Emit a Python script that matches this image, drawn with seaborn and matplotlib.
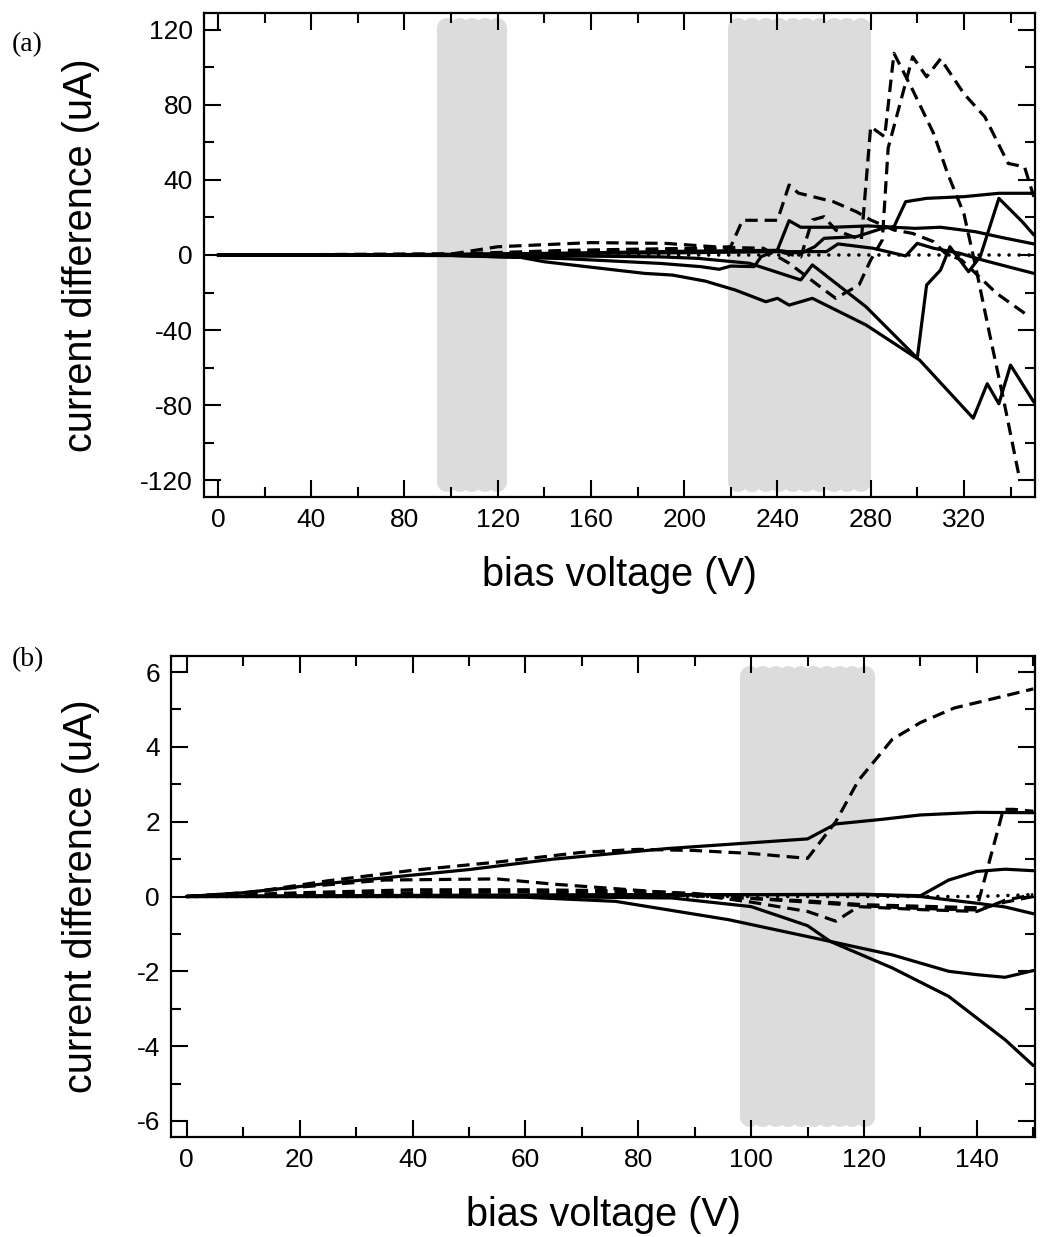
import numpy as np
import pandas as pd
import matplotlib
matplotlib.use("Agg")
import matplotlib.pyplot as plt
from matplotlib.ticker import MultipleLocator
import seaborn as sns

sns.set_style("ticks")
plt.rcParams['font.family'] = ['Liberation Sans', 'DejaVu Sans']
plt.rcParams['axes.unicode_minus'] = False
plt.rcParams['lines.scale_dashes'] = False
for key in ['text.color', 'axes.labelcolor', 'xtick.color', 'ytick.color',
            'xtick.labelcolor', 'ytick.labelcolor', 'axes.edgecolor']:
    plt.rcParams[key] = 'black'

# ---------------- panel (a) data: bias voltage (V) / current difference (uA)
a_s1_v = [0, 100, 150, 200, 240, 250, 256, 260, 274, 285, 290, 295, 304, 320, 335, 350]
a_s1_i = [0, 0.3, 1.0, 2.0, 2.5, 0.9, 4.4, 8.9, 9.8, 14.2, 15.1, 28.4, 30.2, 31.1, 32.9, 32.9]
a_s2_v = [0, 100, 150, 190, 207, 215, 220, 230, 233, 240, 245, 250, 264, 279, 299, 310, 325, 336, 350]
a_s2_i = [0, -0.2, -2.0, -4.5, -6.2, -7.6, -5.9, -6.2, -0.9, 2.7, 18.3, 14.8, 14.8, 15.5, 14.2, 14.8, 12.4, 9.4, 5.9]
a_s3_v = [0, 100, 150, 200, 240, 261, 266, 281, 295, 300, 307, 318, 328, 336, 350]
a_s3_i = [0, 0.3, 0.8, 1.2, 1.8, 1.8, 5.9, 3.6, -0.5, 6.2, 3.6, 1.0, -2.7, -5.3, -9.8]
a_s4_v = [0, 100, 150, 190, 206, 228, 250, 255, 278, 300, 304, 310, 314, 322, 327, 335, 345, 350]
a_s4_i = [0, -0.2, -0.5, -1.0, -1.8, -4.4, -13.3, -5.3, -27.6, -55.0, -16.0, -8.0, 4.4, -8.9, -0.9, 30.2, 17.8, 10.7]
a_s5_v = [0, 100, 130, 140, 167, 183, 195, 209, 222, 235, 240, 245, 255, 278, 301, 324, 330, 335, 340, 350]
a_s5_i = [0, -0.3, -1.3, -3.6, -7.5, -9.8, -10.7, -13.9, -18.7, -24.9, -23.1, -26.7, -23.1, -37.3, -56.0, -87.0, -68.6, -79.3, -58.7, -78.4]
a_d1_v = [0, 100, 150, 200, 240, 250, 255, 260, 265, 276, 280, 286, 290, 298, 307, 313, 320, 325, 331, 337, 344]
a_d1_i = [0, 0.3, 2.0, 3.0, 2.0, -1.0, 18.7, 20.4, 13.3, 8.0, 68.4, 63.0, 107.5, 88.0, 64.8, 43.5, 22.0, -6.0, -42.0, -77.0, -120.0]
a_d2_v = [0, 100, 150, 200, 215, 220, 225, 240, 245, 249, 264, 274, 280, 290, 298, 307, 312, 319, 322, 334, 347]
a_d2_i = [0, 0.5, 2.5, 3.5, 3.8, 4.5, 18.5, 18.5, 37.3, 33.0, 28.4, 23.0, 18.7, 13.3, 11.5, 7.1, 0.9, -2.7, -6.2, -20.4, -31.9]
a_d3_v = [0, 100, 120, 160, 192, 213, 220, 234, 245, 260, 265, 275, 280, 285, 287.5, 298, 304, 310, 320, 329, 339, 346, 350]
a_d3_i = [0, 0.5, 4.4, 6.6, 6.2, 4.4, 4.0, 3.6, -4.4, -18.5, -23.1, -16.0, -2.7, 8.0, 57.0, 105.7, 95.0, 104.6, 86.0, 73.6, 48.8, 47.0, 31.0]
a_dot_v = [0, 100, 200, 300, 350]
a_dot_i = [0, 0, 0, 0, 0]
a_bands = [(94, 124), (219, 280)]

# ---------------- panel (b) data
b_s1_v = [0, 10, 25, 50, 65, 85, 110, 115, 123, 130, 140, 150]
b_s1_i = [0, 0.1, 0.35, 0.72, 1.0, 1.28, 1.54, 1.94, 2.06, 2.18, 2.25, 2.24]
b_s2_v = [0, 40, 80, 100, 120, 130, 135, 140, 145, 150]
b_s2_i = [0, 0.03, 0.05, 0.05, 0.06, 0.02, 0.44, 0.67, 0.73, 0.69]
b_s3_v = [0, 40, 80, 100, 120, 130, 140, 145, 150]
b_s3_i = [0, 0.02, 0.03, 0.05, 0.05, 0.0, -0.18, -0.28, -0.46]
b_s4_v = [0, 40, 60, 76, 96, 114, 125, 135, 140, 145, 150]
b_s4_i = [0, 0, -0.02, -0.13, -0.62, -1.2, -1.56, -2.0, -2.09, -2.16, -1.98]
b_s5_v = [0, 40, 60, 86, 100, 110, 114, 125, 135, 140, 145, 150]
b_s5_i = [0, 0, 0, -0.04, -0.27, -0.78, -1.2, -1.91, -2.67, -3.25, -3.83, -4.52]
b_d1_v = [0, 10, 25, 40, 55, 70, 80, 90, 100, 110, 115, 119, 125, 130, 136, 141, 150]
b_d1_i = [0, 0.08, 0.42, 0.70, 0.92, 1.18, 1.26, 1.23, 1.15, 1.02, 2.0, 3.1, 4.2, 4.65, 5.04, 5.22, 5.55]
b_d2_v = [0, 20, 40, 60, 80, 100, 110, 120, 130, 140, 144.7, 146.5, 150]
b_d2_i = [0, 0.05, 0.1, 0.12, 0.08, -0.05, -0.12, -0.22, -0.26, -0.3, 2.33, 2.33, 2.28]
b_d3_v = [0, 10, 20, 35, 55, 65, 75, 90, 100, 110, 115, 119, 130, 140, 145, 150]
b_d3_i = [0, 0.1, 0.25, 0.44, 0.47, 0.33, 0.22, 0.05, -0.15, -0.4, -0.66, -0.27, -0.35, -0.4, -0.1, 0.05]
b_d4_v = [0, 20, 40, 60, 80, 90, 100, 110, 120, 130, 140, 145, 150]
b_d4_i = [0, 0.1, 0.18, 0.18, 0.15, 0.08, -0.05, -0.15, -0.25, -0.32, -0.36, -0.15, 0.0]
b_dot_v = [0, 50, 100, 140, 150]
b_dot_i = [0, 0, 0, 0, 0.05]
b_bands = [(98, 122)]

series_a = [(a_s1_v, a_s1_i, 'solid'), (a_s2_v, a_s2_i, 'solid'), (a_s3_v, a_s3_i, 'solid'),
            (a_s4_v, a_s4_i, 'solid'), (a_s5_v, a_s5_i, 'solid'),
            (a_d1_v, a_d1_i, 'dashed'), (a_d2_v, a_d2_i, 'dashed'), (a_d3_v, a_d3_i, 'dashed'),
            (a_dot_v, a_dot_i, 'dotted')]
series_b = [(b_s1_v, b_s1_i, 'solid'), (b_s2_v, b_s2_i, 'solid'), (b_s3_v, b_s3_i, 'solid'),
            (b_s4_v, b_s4_i, 'solid'), (b_s5_v, b_s5_i, 'solid'),
            (b_d1_v, b_d1_i, 'dashed'), (b_d2_v, b_d2_i, 'dashed'), (b_d3_v, b_d3_i, 'dashed'),
            (b_d4_v, b_d4_i, 'dashed'), (b_dot_v, b_dot_i, 'dotted')]

W, H = 1042, 1237
fig = plt.figure(figsize=(W / 100, H / 100), dpi=100)
ax_a = fig.add_axes([204 / W, 1 - 497 / H, (1035 - 204) / W, (497 - 13) / H])
ax_b = fig.add_axes([171 / W, 1 - 1137 / H, (1035 - 171) / W, (1137 - 656) / H])

GREY = '#dcdcdc'
LW = 2.3


def draw_bands(ax, bands, ylim_band, axes_px_w, axes_px_h, xlim, ylim):
    pxx = axes_px_w / (xlim[1] - xlim[0])
    pxy = axes_px_h / (ylim[1] - ylim[0])
    r_px = 10.0
    lw_pt = 2 * r_px * 72 / 100
    for (x0, x1) in bands:
        rx = r_px / pxx
        ry = r_px / pxy
        n = int(np.ceil(((x1 - x0) * pxx - 2 * r_px) / 14.0)) + 1
        xs = np.linspace(x0 + rx, x1 - rx, n)
        for xc in xs:
            ax.plot([xc, xc], [ylim_band[0] + ry, ylim_band[1] - ry], color=GREY,
                    lw=lw_pt, solid_capstyle='round', zorder=0.5)


def draw_series(ax, series):
    for xs, ys, kind in series:
        df = pd.DataFrame({'V': xs, 'I': ys})
        sns.lineplot(data=df, x='V', y='I', ax=ax, color='black', lw=LW,
                     sort=False, estimator=None, zorder=2)
        ln = ax.lines[-1]
        if kind == 'dashed':
            ln.set_dashes([9, 5])
            ln.set_dash_capstyle('butt')
        elif kind == 'dotted':
            ln.set_dashes([0.01, 7.2])
            ln.set_dash_capstyle('round')
            ln.set_linewidth(2.6)


def style_axis(ax, xlim, ylim, xmaj, xmin, ymaj, ymin):
    ax.set_xlim(*xlim)
    ax.set_ylim(*ylim)
    ax.xaxis.set_major_locator(MultipleLocator(xmaj))
    ax.xaxis.set_minor_locator(MultipleLocator(xmin))
    ax.yaxis.set_major_locator(MultipleLocator(ymaj))
    ax.yaxis.set_minor_locator(MultipleLocator(ymin))
    ax.tick_params(which='both', direction='in', top=True, right=True, width=1.5,
                   labelsize=19, pad=8, color='black', labelcolor='black')
    ax.tick_params(which='major', length=12)
    ax.tick_params(which='minor', length=7)
    for sp in ax.spines.values():
        sp.set_linewidth(1.6)
        sp.set_color('black')
    ax.set_xlabel('bias voltage (V)', fontsize=28.5, color='black')
    ax.set_ylabel('current difference (uA)', fontsize=28.5, color='black')


xlim_a, ylim_a = (-6, 350.5), (-129, 129)
xlim_b, ylim_b = (-2.8, 150.3), (-6.43, 6.43)

draw_bands(ax_a, a_bands, (-126.5, 126.5), 1035 - 204, 497 - 13, xlim_a, ylim_a)
draw_series(ax_a, series_a)
style_axis(ax_a, xlim_a, ylim_a, 40, 20, 40, 20)
ax_a.set_xticks([0, 40, 80, 120, 160, 200, 240, 280, 320])

draw_bands(ax_b, b_bands, (-6.15, 6.15), 1035 - 171, 1137 - 656, xlim_b, ylim_b)
draw_series(ax_b, series_b)
style_axis(ax_b, xlim_b, ylim_b, 20, 10, 2, 1)
ax_b.set_xticks([0, 20, 40, 60, 80, 100, 120, 140])
ax_b.set_yticks([-6, -4, -2, 0, 2, 4, 6])

ax_a.yaxis.set_label_coords((100 - 204) / (1035 - 204), 0.5)
ax_b.yaxis.set_label_coords((100 - 171) / (1035 - 171), 0.5)
ax_a.xaxis.set_label_coords(0.5, -(556 - 497) / (497 - 13))
ax_b.xaxis.set_label_coords(0.5, -(1196 - 1137) / (1137 - 656))

fig.text(12 / W, 1 - 45 / H, '(a)', fontsize=20, family=['Liberation Serif', 'DejaVu Serif'],
         va='center', ha='left', color='black')
fig.text(12 / W, 1 - 660 / H, '(b)', fontsize=20, family=['Liberation Serif', 'DejaVu Serif'],
         va='center', ha='left', color='black')

fig.savefig('out.png', dpi=100)
